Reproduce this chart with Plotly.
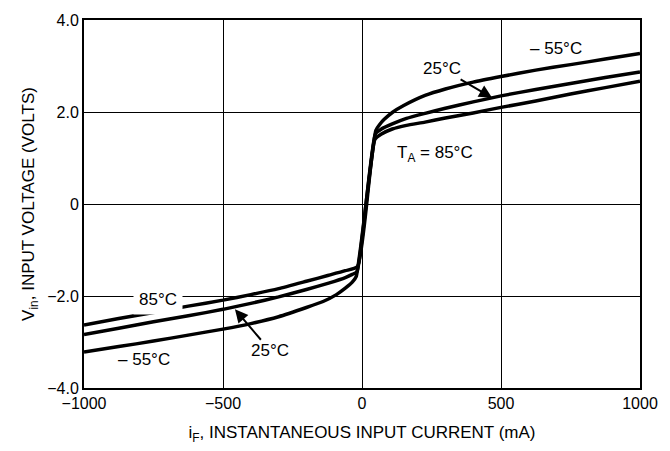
import plotly.graph_objects as go

# Data (x: mA, y: volts)
x_m55 = [-1000, -875, -750, -625, -500, -400, -300, -200, -140, -92, -60, -35, -21,
         50, 65, 80, 109, 150, 227, 300, 400, 500, 625, 750, 875, 1000]
y_m55 = [-3.22, -3.10, -2.98, -2.85, -2.72, -2.60, -2.45, -2.25, -2.12, -1.97, -1.83, -1.70, -1.58,
         1.60, 1.74, 1.84, 1.99, 2.14, 2.36, 2.50, 2.65, 2.77, 2.91, 3.03, 3.15, 3.27]

x_25 = [-1000, -875, -750, -625, -500, -400, -300, -200, -120, -60, -35, -18,
        48, 70, 109, 160, 227, 300, 400, 500, 625, 750, 875, 1000]
y_25 = [-2.84, -2.70, -2.56, -2.43, -2.29, -2.16, -2.02, -1.86, -1.72, -1.60, -1.53, -1.47,
        1.52, 1.63, 1.74, 1.86, 1.97, 2.08, 2.22, 2.35, 2.49, 2.62, 2.75, 2.87]

x_85 = [-1000, -875, -750, -625, -500, -400, -300, -200, -120, -60, -16,
        46, 70, 109, 160, 227, 300, 400, 500, 625, 750, 875, 1000]
y_85 = [-2.63, -2.49, -2.36, -2.22, -2.09, -1.97, -1.84, -1.68, -1.55, -1.45, -1.36,
        1.40, 1.52, 1.63, 1.71, 1.78, 1.87, 1.98, 2.10, 2.24, 2.39, 2.53, 2.67]

x_ticks = [-1000, -500, 0, 500, 1000]
x_tick_labels = ["\u22121000", "\u2212500", "0", "500", "1000"]
y_ticks = [-4, -2, 0, 2, 4]
y_tick_labels = ["\u22124.0", "\u22122.0", "0", "2.0", "4.0"]

FONT = "Liberation Sans, Arial, sans-serif"

fig = go.Figure()
for xs, ys in [(x_m55, y_m55), (x_25, y_25), (x_85, y_85)]:
    fig.add_trace(go.Scatter(x=xs, y=ys, mode="lines",
                             line=dict(color="black", width=3.5, shape="spline", smoothing=0.5),
                             showlegend=False, hoverinfo="skip"))

annots = [
    dict(x=699, y=3.38, text="\u2013 55\u00b0C", showarrow=False),
    dict(x=468, y=2.31, ax=287, ay=2.95, axref="x", ayref="y", text="25\u00b0C", showarrow=True,
         arrowhead=2, arrowsize=1.3, arrowwidth=2, arrowcolor="black"),
    dict(x=262, y=1.09, text="T<sub>A</sub> = 85\u00b0C", showarrow=False),
    dict(x=-734, y=-2.07, text="85\u00b0C", showarrow=False, bgcolor="white", borderpad=5),
    dict(x=-784, y=-3.38, text="\u2013 55\u00b0C", showarrow=False),
    dict(x=-457, y=-2.29, ax=-330, ay=-3.19, axref="x", ayref="y", text="25\u00b0C", showarrow=True,
         arrowhead=2, arrowsize=1.3, arrowwidth=2, arrowcolor="black"),
]
for a in annots:
    a.setdefault("xref", "x")
    a.setdefault("yref", "y")
    a["font"] = dict(family=FONT, size=17, color="black")
    fig.add_annotation(**a)

fig.update_layout(
    width=670, height=451,
    margin=dict(l=84, r=22, t=16, b=61),
    paper_bgcolor="white", plot_bgcolor="white",
    font=dict(family=FONT, size=16, color="black"),
)
fig.update_xaxes(range=[-1000, 1000], tickvals=x_ticks, ticktext=x_tick_labels,
                 showgrid=True, gridcolor="black", gridwidth=1, zeroline=False,
                 showline=True, linecolor="black", linewidth=2, mirror=True, ticks="",
                 title=dict(text="i<sub>F</sub>, INSTANTANEOUS INPUT CURRENT (mA)", font=dict(size=17), standoff=15))
fig.update_yaxes(range=[-4, 4], tickvals=y_ticks, ticktext=y_tick_labels,
                 showgrid=True, gridcolor="black", gridwidth=1, zeroline=False,
                 showline=True, linecolor="black", linewidth=2, mirror=True, ticks="",
                 title=dict(text="V<sub>in</sub>, INPUT VOLTAGE (VOLTS)", font=dict(size=17), standoff=8))

fig.write_html("out.html")
